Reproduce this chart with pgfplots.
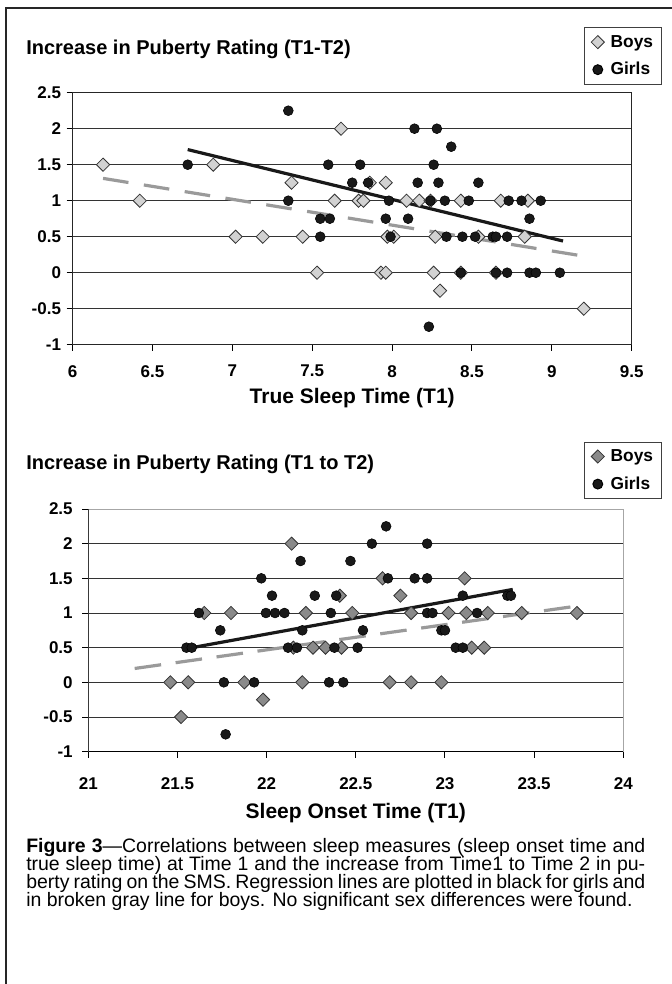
\documentclass[border=0pt]{standalone}
\usepackage{pgfplots}
\pgfplotsset{compat=1.18}
\usepackage{pgfplotstable}
\usepackage{fontspec}
\setmainfont{Liberation Sans}

\definecolor{boylight}{HTML}{D2D2D2}
\definecolor{boydark}{HTML}{8A8A8A}
\definecolor{trendgray}{HTML}{9A9A9A}

% top chart: true sleep time (T1) vs increase in puberty rating
\pgfplotstableread{
x y
6.19 1.5
6.42 1.0
6.88 1.5
7.02 0.5
7.19 0.5
7.44 0.5
7.37 1.25
7.53 0
7.68 2.0
7.64 1.0
7.86 1.25
7.96 1.25
7.79 1.0
7.82 1.0
8.09 1.0
8.17 1.0
8.24 1.0
8.43 1.0
8.68 1.0
8.85 1.0
7.97 0.5
8.01 0.5
8.27 0.5
8.54 0.5
8.83 0.5
7.93 0
7.96 0
8.26 0
8.43 0
8.65 0
8.30 -0.25
9.20 -0.5
}\sleepboys

\pgfplotstableread{
x y
6.72 1.5
7.35 2.25
7.35 1.0
7.60 1.5
7.55 0.75
7.61 0.75
7.55 0.5
8.14 2.0
8.28 2.0
8.37 1.75
7.80 1.5
8.26 1.5
7.75 1.25
7.85 1.25
8.16 1.25
8.29 1.25
8.54 1.25
7.98 1.0
8.24 1.0
8.33 1.0
8.48 1.0
8.73 1.0
8.81 1.0
8.93 1.0
7.96 0.75
8.10 0.75
8.86 0.75
7.99 0.5
8.34 0.5
8.44 0.5
8.52 0.5
8.63 0.5
8.65 0.5
8.72 0.5
8.43 0
8.65 0
8.72 0
8.86 0
8.90 0
9.05 0
8.23 -0.75
}\sleepgirls

% bottom chart: sleep onset time (T1) vs increase in puberty rating
\pgfplotstableread{
x y
21.46 0
21.56 0
21.52 -0.5
21.65 1
21.80 1
21.875 0
21.98 -0.25
22.14 2
22.22 1
22.15 0.5
22.20 0
22.26 0.5
22.33 0.5
22.42 0.5
22.41 1.25
22.48 1
22.65 1.5
22.75 1.25
22.81 1
23.02 1
23.12 1
23.24 1
23.11 1.5
23.15 0.5
23.22 0.5
22.69 0
22.81 0
22.98 0
23.43 1
23.74 1
}\onsetboys

\pgfplotstableread{
x y
21.55 0.5
21.58 0.5
21.62 1
21.74 0.75
21.76 0
21.77 -0.75
21.93 0
21.97 1.5
22.03 1.25
21.996 1
22.047 1
22.10 1
22.19 1.75
22.20 0.75
22.12 0.5
22.17 0.5
22.27 1.25
22.36 1
22.35 0
22.38 0.5
22.39 1.25
22.43 0
22.67 2.25
22.59 2
22.90 2
22.47 1.75
22.68 1.5
22.83 1.5
22.90 1.5
23.10 1.25
23.35 1.25
23.37 1.25
22.90 1
22.93 1
23.18 1
22.54 0.75
22.98 0.75
23.00 0.75
22.51 0.5
23.06 0.5
23.10 0.5
}\onsetgirls

\pgfplotsset{
  pubchart/.style={
    scale only axis, anchor=north west,
    ymin=-1, ymax=2.5,
    ytick={-1,-0.5,0,0.5,1,1.5,2,2.5},
    ymajorgrids,
    grid style={black!80, line width=0.75pt},
    tick pos=left, tick align=outside,
    major tick length=4.5pt,
    tick style={black, line width=0.75pt},
    ticklabel style={font=\fontsize{12.75}{14}\selectfont\bfseries},
    /pgf/number format/assume math mode=true,
    label style={font=\fontsize{15.75}{18}\selectfont\bfseries},
    legend style={
      anchor=north west, draw=black!75, line width=0.75pt, fill=white,
      font=\fontsize{13}{15}\selectfont\bfseries,
      inner xsep=4.8pt, inner ysep=4pt, row sep=7pt,
      nodes={inner sep=1.5pt},
      cells={anchor=west},
      /tikz/every odd column/.append style={column sep=3.2pt},
    },
    legend image code/.code={%
      \draw[mark repeat=2,mark phase=2,##1] plot coordinates {(0pt,0pt)(4pt,0pt)(8pt,0pt)};},
  },
  boys/.style={only marks, mark=square*, mark size=3.5pt,
    mark options={rotate=45, fill=#1, draw=black!80, line width=0.6pt}},
  girls/.style={only marks, mark=*, mark size=3.7pt,
    mark options={fill=black!90, draw=black}},
}

\begin{document}
\begin{tikzpicture}
\useasboundingbox (0,0) rectangle (503.25pt,-738pt);

% outer frame (left and top edge only)
\draw[line width=2.2pt, black!85] (4.5pt,-740pt) -- (4.5pt,-6pt) -- (505pt,-6pt);

% titles
\node[anchor=base west, inner sep=0, font=\fontsize{15}{17}\selectfont\bfseries]
  at (19.5pt,-40.65pt) {Increase in Puberty Rating (T1-T2)};
\node[anchor=base west, inner sep=0, font=\fontsize{15}{17}\selectfont\bfseries]
  at (19.5pt,-352.4pt) {Increase in Puberty Rating (T1 to T2)};

\begin{axis}[pubchart,
  at={(54.53pt,-69.53pt)}, width=419.25pt, height=189pt,
  xmin=6, xmax=9.5,
  xtick={6,6.5,7,7.5,8,8.5,9,9.5},
  xticklabel shift=7.3pt,
  yticklabel shift=0.75pt,
  xlabel={True Sleep Time (T1)},
  xlabel style={at={(axis description cs:0.5,-0.2127)}, anchor=center},
  axis line style={black!85, line width=0.75pt},
  legend style={at={(axis description cs:0.9152,1.2595)}},
]
\addplot[boys=boylight] table {\sleepboys};
\addlegendentry{Boys}
\addplot[girls] table {\sleepgirls};
\addlegendentry{Girls}
\addplot[forget plot, trendgray, line width=2.4pt, dash pattern=on 19.3pt off 11.7pt]
  coordinates {(6.19,1.31) (9.20,0.23)};
\addplot[forget plot, black!90, line width=2.4pt]
  coordinates {(6.72,1.71) (9.07,0.44)};
\end{axis}

\begin{axis}[pubchart,
  at={(66.23pt,-381.75pt)}, width=401.25pt, height=182pt,
  xmin=21, xmax=24,
  xtick={21,21.5,22,22.5,23,23.5,24},
  xticklabel shift=11.4pt,
  yticklabel shift=3.7pt,
  xlabel={Sleep Onset Time (T1)},
  xlabel style={at={(axis description cs:0.5,-0.2538)}, anchor=center},
  axis line style={gray!70, line width=0.75pt},
  legend style={at={(axis description cs:0.9271,1.2773)}},
]
\addplot[boys=boydark] table {\onsetboys};
\addlegendentry{Boys}
\addplot[girls] table {\onsetgirls};
\addlegendentry{Girls}
\addplot[forget plot, trendgray, line width=2.4pt, dash pattern=on 20pt off 11pt]
  coordinates {(21.26,0.20) (23.74,1.10)};
\addplot[forget plot, black!90, line width=2.4pt]
  coordinates {(21.58,0.50) (23.38,1.34)};
\draw[black, line width=0.75pt] (rel axis cs:0,1) -- (rel axis cs:0,0) -- (rel axis cs:1,0);
\end{axis}

% caption
\begin{scope}[every node/.style={anchor=base west, inner sep=0,
    font=\fontsize{14.6}{13.7}\selectfont}]
\node at (19.5pt,-639pt) {\makebox[464.25pt][s]{\textbf{Figure 3}—Correlations between sleep measures (sleep onset time and}};
\node at (19.5pt,-652.7pt) {\makebox[464.25pt][s]{true sleep time) at Time 1 and the increase from Time1 to Time 2 in pu-}};
\node at (19.5pt,-666.5pt) {\makebox[464.25pt][s]{berty rating on the SMS. Regression lines are plotted in black for girls and}};
\node at (19.5pt,-680.2pt) {in broken gray line for boys. No significant sex differences were found.};
\end{scope}
\end{tikzpicture}
\end{document}
